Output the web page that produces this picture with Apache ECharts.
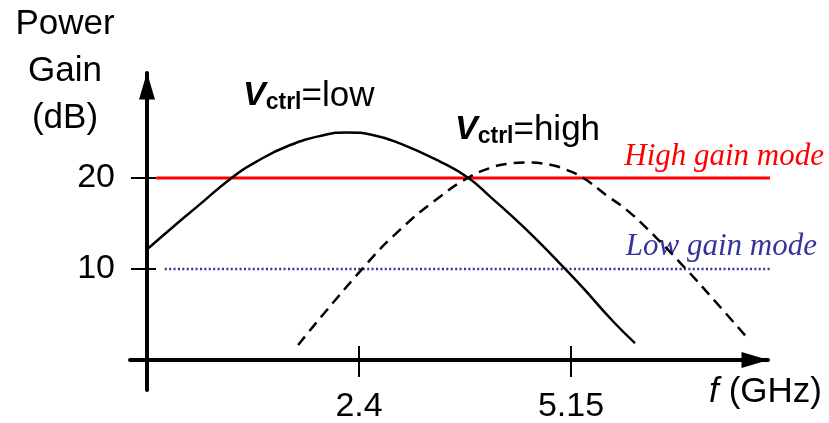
<!DOCTYPE html>
<html>
<head>
<meta charset="utf-8">
<script src="https://cdn.jsdelivr.net/npm/echarts@6/dist/echarts.min.js"></script>
<style>
  html, body { margin: 0; padding: 0; background: #fff; }
  #chart { width: 829px; height: 423px; }
</style>
</head>
<body>
<div id="chart"></div>
<script>
// V_ctrl = low (solid curve), frequency in GHz / gain in dB
const lowFreq = [-0.33, -0.01, 0.3, 0.73, 1.07, 1.5, 1.94, 2.24, 2.59, 2.93, 3.45, 3.82, 4.1, 4.53, 4.92, 5.27, 5.7, 5.98];
const lowGain = [12.3, 14.65, 16.85, 19.9, 21.8, 23.6, 24.7, 25.0, 24.7, 23.8, 21.8, 20.0, 17.95, 14.65, 11.35, 8.25, 4.2, 1.85];

// V_ctrl = high (dashed curve)
const highFreq = [1.61, 2.45, 2.93, 3.45, 3.81, 4.1, 4.32, 4.58, 4.88, 5.09, 5.31, 5.61, 5.87, 6.13, 6.63, 7.04, 7.45];
const highGain = [1.65, 10.1, 14.3, 17.95, 20.0, 21.1, 21.55, 21.7, 21.45, 20.9, 20.0, 18.1, 16.5, 14.5, 10.1, 6.25, 2.3];

// gain mode levels and where their lines run
const highModeLevel = 20;
const highModeSpan = [-0.23, 7.86];
const lowModeLevel = 10;
const lowModeSpan = [-0.12, 7.82];

const freqTicks = [2.4, 5.15];
const gainTicks = [10, 20];

const FONT = "'Liberation Sans', Arial, sans-serif";
const SERIF = "'Liberation Serif', 'Times New Roman', serif";

function pairs(xs, ys) {
  return xs.map((x, i) => [x, ys[i]]);
}

const chart = echarts.init(document.getElementById("chart"));

const xRange = { min: -0.571, max: 7.705 };
const yRange = { min: -3.3, max: 31.54 };

const tickStyle = { color: "#000", width: 2 };

const option = {
  animation: false,
  backgroundColor: "#ffffff",
  grid: { left: 130, right: 61, top: 73, bottom: 33, outerBoundsMode: "none", containLabel: false },
  xAxis: [
    {
      type: "value",
      min: xRange.min,
      max: xRange.max,
      position: "bottom",
      axisLine: {
        onZero: true,
        symbol: ["none", "triangle"],
        symbolSize: [16, 27],
        symbolOffset: [0, -13],
        lineStyle: { color: "#000", width: 4 }
      },
      axisTick: { show: true, customValues: freqTicks, length: 17, lineStyle: tickStyle },
      axisLabel: {
        show: true,
        customValues: freqTicks,
        margin: 0,
        color: "#000",
        fontSize: 34,
        fontFamily: FONT,
        formatter: v => String(v)
      },
      splitLine: { show: false }
    },
    {
      type: "value",
      min: xRange.min,
      max: xRange.max,
      position: "bottom",
      axisLine: { onZero: true, show: false },
      axisTick: { show: true, inside: true, customValues: freqTicks, length: 14, lineStyle: tickStyle },
      axisLabel: { show: false },
      splitLine: { show: false }
    }
  ],
  yAxis: [
    {
      type: "value",
      min: yRange.min,
      max: yRange.max,
      position: "left",
      offset: -17,
      axisLine: {
        show: true,
        onZero: false,
        symbol: ["none", "triangle"],
        symbolSize: [16, 27],
        symbolOffset: [0, -13],
        lineStyle: { color: "#000", width: 4 }
      },
      axisTick: { show: true, customValues: gainTicks, length: 16, lineStyle: tickStyle },
      axisLabel: {
        show: true,
        customValues: gainTicks,
        margin: 32,
        padding: [10, 0, 0, 0],
        color: "#000",
        fontSize: 34,
        fontFamily: FONT
      },
      splitLine: { show: false }
    },
    {
      type: "value",
      min: yRange.min,
      max: yRange.max,
      position: "left",
      offset: -17,
      axisLine: { show: false, onZero: false },
      axisTick: { show: true, inside: true, customValues: gainTicks, length: 9, lineStyle: tickStyle },
      axisLabel: { show: false },
      splitLine: { show: false }
    }
  ],
  series: [
    {
      name: "High gain mode",
      type: "line",
      clip: false,
      symbol: "none",
      lineStyle: { color: "#ff0000", width: 3 },
      data: highModeSpan.map(x => [x, highModeLevel]),
      z: 1
    },
    {
      name: "Low gain mode",
      type: "line",
      clip: false,
      symbol: "none",
      lineStyle: { color: "#34349c", width: 2.5, type: [2, 2.4] },
      data: lowModeSpan.map(x => [x, lowModeLevel]),
      z: 1
    },
    {
      name: "Vctrl=low",
      type: "line",
      smooth: 0.5,
      symbol: "none",
      lineStyle: { color: "#000", width: 2.5 },
      data: pairs(lowFreq, lowGain),
      z: 3
    },
    {
      name: "Vctrl=high",
      type: "line",
      smooth: 0.5,
      symbol: "none",
      lineStyle: { color: "#000", width: 2.5, type: [11, 7] },
      data: pairs(highFreq, highGain),
      z: 3
    }
  ],
  graphic: [
    { type: "text", x: 65, y: 24, style: { text: "Power", fontSize: 35, fontFamily: FONT, fill: "#000", align: "center", verticalAlign: "middle" } },
    { type: "text", x: 65, y: 71, style: { text: "Gain", fontSize: 35, fontFamily: FONT, fill: "#000", align: "center", verticalAlign: "middle" } },
    { type: "text", x: 65, y: 118, style: { text: "(dB)", fontSize: 35, fontFamily: FONT, fill: "#000", align: "center", verticalAlign: "middle" } },
    {
      type: "text", x: 243, y: 96,
      style: {
        text: "{v|V}{s|ctrl}{n|=low}",
        align: "left", verticalAlign: "middle", fill: "#000",
        rich: {
          v: { fontSize: 34, fontFamily: FONT, fontWeight: "bold", fontStyle: "italic", lineHeight: 36 },
          s: { fontSize: 23, fontFamily: FONT, fontWeight: "bold", verticalAlign: "bottom", lineHeight: 20 },
          n: { fontSize: 35, fontFamily: FONT, lineHeight: 36 }
        }
      }
    },
    {
      type: "text", x: 455, y: 130,
      style: {
        text: "{v|V}{s|ctrl}{n|=high}",
        align: "left", verticalAlign: "middle", fill: "#000",
        rich: {
          v: { fontSize: 34, fontFamily: FONT, fontWeight: "bold", fontStyle: "italic", lineHeight: 36 },
          s: { fontSize: 23, fontFamily: FONT, fontWeight: "bold", verticalAlign: "bottom", lineHeight: 20 },
          n: { fontSize: 35, fontFamily: FONT, lineHeight: 36 }
        }
      }
    },
    { type: "text", x: 824, y: 157, style: { text: "High gain mode", fontSize: 31, fontFamily: SERIF, fontStyle: "italic", fill: "#ff0000", align: "right", verticalAlign: "middle" } },
    { type: "text", x: 817, y: 247, style: { text: "Low gain mode", fontSize: 31, fontFamily: SERIF, fontStyle: "italic", fill: "#34349c", align: "right", verticalAlign: "middle" } },
    {
      type: "text", x: 822, y: 392,
      style: {
        text: "{i|f}{n|(GHz)}",
        align: "right", verticalAlign: "middle", fill: "#000",
        rich: {
          i: { fontSize: 35, fontFamily: FONT, fontStyle: "italic", padding: [0, 10, 0, 0] },
          n: { fontSize: 35, fontFamily: FONT }
        }
      }
    }
  ]
};

chart.setOption(option);
window.addEventListener("resize", () => chart.resize());
</script>
</body>
</html>
